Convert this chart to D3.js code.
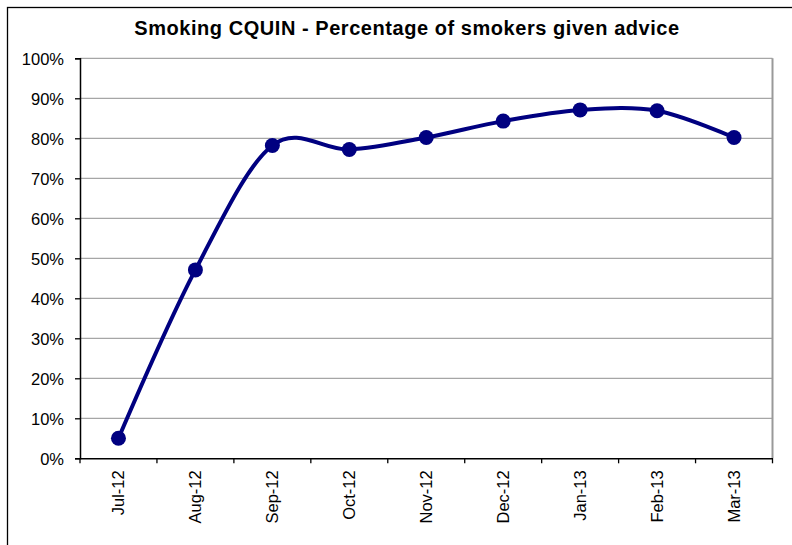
<!DOCTYPE html>
<html>
<head>
<meta charset="utf-8">
<script src="https://cdn.jsdelivr.net/npm/d3@7"></script>
<style>
  body { margin: 0; background: #fff; }
  svg { display: block; font-family: "Liberation Sans", Arial, sans-serif; }
</style>
</head>
<body>
<svg id="chart" width="792" height="545"></svg>
<script>
// data
var months = ["Jul-12", "Aug-12", "Sep-12", "Oct-12", "Nov-12", "Dec-12", "Jan-13", "Feb-13", "Mar-13"];
var pctAdvice = [0.05, 0.471, 0.782, 0.772, 0.802, 0.843, 0.871, 0.869, 0.802];
var yTicks = [0, 0.1, 0.2, 0.3, 0.4, 0.5, 0.6, 0.7, 0.8, 0.9, 1.0];

var svg = d3.select('#chart');

var plot = { left: 80, right: 772.5, top: 58.3, bottom: 458.3 };

// outer frame (clipped on right/bottom like the original)
svg.append('rect')
    .attr('x', 7.5).attr('y', 7.5)
    .attr('width', 800).attr('height', 560)
    .style('fill', 'none')
    .style('stroke', '#000')
    .style('stroke-width', 1.3);

svg.append('text')
    .attr('x', 407).attr('y', 35)
    .attr('text-anchor', 'middle')
    .style('font-size', '20px')
    .style('font-weight', 'bold')
    .style('letter-spacing', '0.55px')
    .text('Smoking CQUIN - Percentage of smokers given advice');

var x = d3.scaleBand().domain(months).range([plot.left, plot.right]);
var y = d3.scaleLinear().domain([0, 1]).range([plot.bottom, plot.top]);

// gridlines
svg.append('g').selectAll('line')
    .data(yTicks.slice(1))
    .enter().append('line')
    .attr('x1', plot.left).attr('x2', plot.right)
    .attr('y1', function(d) { return y(d); })
    .attr('y2', function(d) { return y(d); })
    .style('stroke', '#a6a6a6')
    .style('stroke-width', 1.2);

// right plot border
svg.append('line')
    .attr('x1', plot.right).attr('x2', plot.right)
    .attr('y1', plot.top).attr('y2', plot.bottom)
    .style('stroke', '#999')
    .style('stroke-width', 2);

// y axis
var yAxis = d3.axisLeft(y).tickValues(yTicks).tickFormat(d3.format('.0%')).tickSize(5).tickPadding(11);
var gy = svg.append('g').attr('transform', 'translate(' + plot.left + ',0)').call(yAxis);
gy.select('.domain').style('stroke', '#000').style('stroke-width', 1.5);
gy.selectAll('.tick line').style('stroke', '#000').style('stroke-width', 1.3);
gy.selectAll('text').style('font-size', '16.5px').style('fill', '#000').attr('dy', '0.36em');

// x axis: ticks at band edges
var xAxis = d3.axisBottom(x).tickSize(0).tickSizeOuter(0);
var gx = svg.append('g').attr('transform', 'translate(0,' + plot.bottom + ')').call(xAxis);
gx.select('.domain').style('stroke', '#000').style('stroke-width', 1.5);
gx.selectAll('.tick line').remove();
gx.selectAll('.tick text')
    .style('font-size', '16.5px')
    .style('fill', '#000')
    .attr('text-anchor', 'end')
    .attr('transform', 'rotate(-90)')
    .attr('x', -12)
    .attr('y', 0)
    .attr('dy', '0.36em')
    .attr('dx', 0);

var edges = months.map(function(m) { return x(m); }).concat([plot.right]);
svg.append('g').selectAll('line')
    .data(edges)
    .enter().append('line')
    .attr('x1', function(d) { return d; }).attr('x2', function(d) { return d; })
    .attr('y1', plot.bottom).attr('y2', plot.bottom + 5)
    .style('stroke', '#000')
    .style('stroke-width', 1.3);

// smoothed line
var line = d3.line()
    .x(function(d, i) { return x(months[i]) + x.bandwidth() / 2; })
    .y(function(d) { return y(d); })
    .curve(d3.curveCardinal.tension(0));

svg.append('path')
    .datum(pctAdvice)
    .attr('d', line)
    .style('fill', 'none')
    .style('stroke', '#000080')
    .style('stroke-width', 4);

svg.append('g').selectAll('circle')
    .data(pctAdvice)
    .enter().append('circle')
    .attr('cx', function(d, i) { return x(months[i]) + x.bandwidth() / 2; })
    .attr('cy', function(d) { return y(d); })
    .attr('r', 7.5)
    .style('fill', '#000080');
</script>
</body>
</html>
